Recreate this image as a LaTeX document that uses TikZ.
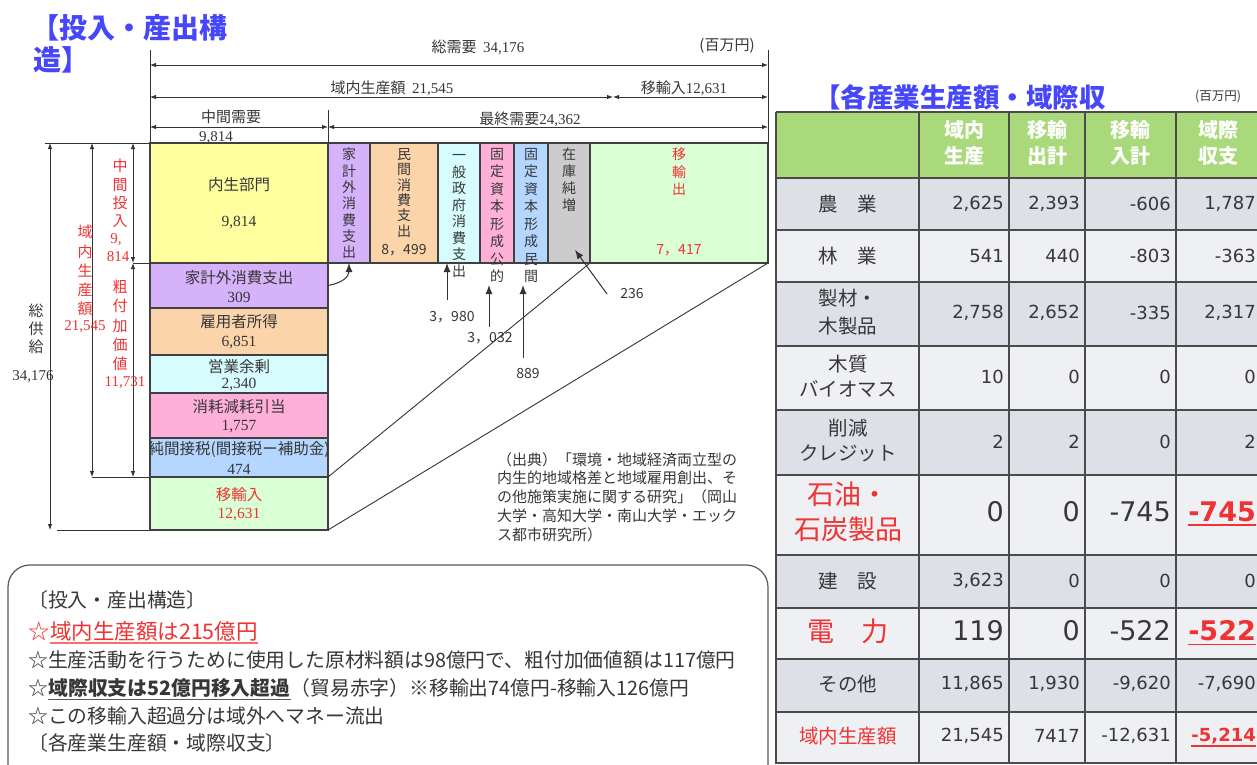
\documentclass[tikz,border=0pt]{standalone}
\usepackage{fontspec}
\setmainfont{Noto Sans CJK JP}
\newfontfamily\ser{Liberation Serif}
\newfontfamily\dv{DejaVu Sans}
\usetikzlibrary{arrows.meta}
\newcommand\fsz[2]{\fontsize{#1pt}{#2pt}\selectfont}
\definecolor{tblue}{RGB}{70,70,250}
\definecolor{tred}{RGB}{240,50,50}
\definecolor{tx}{RGB}{55,55,55}
\definecolor{cyel}{RGB}{255,255,160}
\definecolor{cpur}{RGB}{214,178,250}
\definecolor{cora}{RGB}{252,212,170}
\definecolor{ccya}{RGB}{214,252,255}
\definecolor{cpin}{RGB}{255,176,216}
\definecolor{cblu}{RGB}{180,214,255}
\definecolor{cgrn}{RGB}{218,255,212}
\definecolor{cgry}{RGB}{204,204,204}
\definecolor{hgrn}{RGB}{169,217,122}
\definecolor{rowa}{RGB}{222,224,232}
\definecolor{rowb}{RGB}{239,240,244}
\definecolor{gridc}{RGB}{75,75,75}
\newcommand\bx[6]{\node[box,fill=#2,minimum width={#5-#3},minimum height={#6-#4}] (#1) at (#3,#4) {};}
\newcommand\nrow[6]{%
 \node[num] (#1a) at (1004,#2) {#3};
 \node[num] (#1b) at (1080,#2) {#4};
 \node[num] (#1c) at (1171,#2) {#5};
 \node[num] (#1d) at (1256,#2) {#6};}
\begin{document}
\begin{tikzpicture}[x=1pt,y=-1pt,
 box/.style={draw=black!75,line width=1.1pt,anchor=north west,inner sep=0pt,outer sep=0pt},
 lab/.style={inner sep=0pt,text=tx,font=\fsz{15.5}{18}},
 vst/.style={inner sep=0pt,text=tx,align=center,anchor=north},
 dl/.style={inner sep=0pt,text=tx,font=\fsz{15}{18}},
 dim/.style={draw=black!80,line width=0.9pt,{Latex[length=6pt,width=4.5pt]}-{Latex[length=6pt,width=4.5pt]}},
 ext/.style={draw=black!80,line width=0.9pt},
 arr/.style={draw=black!80,line width=1pt,-{Latex[length=9pt,width=7pt]}},
 num/.style={inner sep=0pt,anchor=east,text=tx,font=\dv\fsz{18}{20}},
 rl/.style={inner sep=0pt,text=tx,align=center,font=\fsz{19.5}{25}},
 hd/.style={inner sep=0pt,text=white,align=center,font=\bfseries\fsz{20}{26}},
 bt/.style={inner sep=0pt,text=tx,font=\fsz{19.8}{24}}]
\useasboundingbox (0,0) rectangle (1257,764);
\clip (0,0) rectangle (1257,764);
\fill[white] (0,0) rectangle (1257,764);

% titles
\node[inner sep=0pt,anchor=west,text=tblue,font=\bfseries\fsz{28}{30}] (ttl1) at (31,28) {【投入・産出構};
\node[inner sep=0pt,anchor=west,text=tblue,font=\bfseries\fsz{28}{30}] (ttl2) at (33,60) {造】};
\node[inner sep=0pt,anchor=west,text=tblue,font=\bfseries\fsz{26.5}{30}] (ttl3) at (814,97) {【各産業生産額・域際収};
\node[inner sep=0pt,text=tx,font=\fsz{12.5}{14}] (unit2) at (1218,97) {(百万円)};

% left column boxes
\bx{yel}{cyel}{150}{143}{328}{263}
\bx{pur}{cpur}{150}{263}{328}{308}
\bx{ora}{cora}{150}{308}{328}{355}
\bx{cya}{ccya}{150}{355}{328}{393}
\bx{pin}{cpin}{150}{393}{328}{438}
\bx{blu}{cblu}{150}{438}{328}{477}
\bx{grn}{cgrn}{150}{477}{328}{530}
% top columns
\bx{k1}{cpur}{328}{143}{370}{263}
\bx{k2}{cora}{370}{143}{438}{263}
\bx{k3}{ccya}{438}{143}{480}{263}
\bx{k4}{cpin}{480}{143}{514}{263}
\bx{k5}{cblu}{514}{143}{548}{263}
\bx{k6}{cgry}{548}{143}{590}{263}
\bx{k7}{cgrn}{590}{143}{768}{263}

% left box texts
\node[lab] (y1) at (239,185) {内生部門};
\node[lab] (y2) at (239,223) {\ser 9,814};
\node[lab] (p1t) at (239,278) {家計外消費支出};
\node[lab] (p2t) at (239,297) {\ser 309};
\node[lab] (o1t) at (239,322) {雇用者所得};
\node[lab] (o2t) at (239,343) {\ser 6,851};
\node[lab] (c1t) at (239,367) {営業余剰};
\node[lab] (c2t) at (239,385) {\ser 2,340};
\node[lab] (m1t) at (239,407) {消耗減耗引当};
\node[lab] (m2t) at (239,427) {\ser 1,757};
\node[lab] (b1t) at (239,449) {純間接税(間接税ー補助金)};
\node[lab] (b2t) at (239,469) {\ser 474};
\node[lab,text=tred] (g1t) at (239,495) {移輸入};
\node[lab,text=tred] (g2t) at (239,515) {\ser 12,631};

% top column texts
\node[vst,font=\fsz{14}{16.3}] (kt1) at (349,148) {家\\計\\外\\消\\費\\支\\出};
\node[vst,font=\fsz{14}{15.4}] (kt2) at (404,148) {民\\間\\消\\費\\支\\出};
\node[inner sep=0pt,text=tx,font=\fsz{14}{16}] (kt2n) at (404,250) {8，499};
\node[vst,font=\fsz{14}{16.5}] (kt3) at (459,148) {\rule{0pt}{12.3pt}一\\般\\政\\府\\消\\費\\支\\出};
\node[vst,font=\fsz{14}{17.5}] (kt4) at (497,148) {固\\定\\資\\本\\形\\成\\公\\的};
\node[vst,font=\fsz{14}{17.5}] (kt5) at (531,148) {固\\定\\資\\本\\形\\成\\民\\間};
\node[vst,font=\fsz{14}{16.7}] (kt6) at (569,148) {在\\庫\\純\\増};
\node[vst,font=\fsz{14}{17.5},text=tred] (kt7) at (679,148) {移\\輸\\出};
\node[inner sep=0pt,text=tred,font=\fsz{14}{16}] (kt7n) at (679,250) {7，417};

% top dimension lines
\node[dl] (tot) at (478,47) {総需要\ \ {\ser 34,176}};
\node[dl] (unit1) at (727,46) {(百万円)};
\node[dl] (dom) at (392,88) {域内生産額\ \ {\ser 21,545}};
\node[dl] (imp) at (684,88) {移輸入{\ser 12,631}};
\node[dl] (mid) at (231,117) {中間需要};
\node[dl] (mid2) at (216,138) {\ser 9,814};
\node[dl] (fin) at (530,119) {最終需要{\ser 24,362}};
\coordinate (e1) at (150,50);
\coordinate (e2) at (768,50);
\coordinate (e3) at (328,110);
\draw[ext] (e1) -- (yel.north west);
\draw[ext] (e2) -- (k7.north east);
\draw[ext] (e3) -- (k1.north west);
\coordinate (pa) at (150,65); \coordinate (pb) at (768,65);
\coordinate (qa) at (150,97); \coordinate (qm) at (613,97); \coordinate (qb) at (768,97);
\coordinate (sa) at (150,127); \coordinate (sm) at (328,127); \coordinate (sb) at (768,127);
\draw[dim] (pa) -- (pb);
\draw[dim] (qa) -- (qm);
\draw[dim] (qm) -- (qb);
\draw[dim] (sa) -- (sm);
\draw[dim] (sm) -- (sb);

% left dimension lines
\coordinate (h1) at (45,143);
\coordinate (v1a) at (50,143); \coordinate (v1b) at (50,530);
\coordinate (v2a) at (92,143); \coordinate (v2b) at (92,477);
\coordinate (v3a) at (133,143); \coordinate (v3m) at (133,263); \coordinate (v3b) at (133,477);
\coordinate (h4) at (57,530);
\draw[ext] (h1) -- (yel.north west);
\draw[ext] (v3m) -- (yel.south west);
\draw[ext] (v2b) -- (blu.south west);
\draw[ext] (h4) -- (grn.south west);
\draw[dim] (v1a) -- (v1b);
\draw[dim] (v2a) -- (v2b);
\draw[dim] (v3a) -- (v3m);
\draw[dim] (v3m) -- (v3b);

\node[vst,font=\fsz{15}{18}] (sk1) at (36,304) {総\\供\\給};
\node[inner sep=0pt,text=tx,font=\ser\fsz{15}{18}] (sk2) at (33,377) {34,176};
\node[vst,text=tred,font=\fsz{15}{19.3}] (dn1) at (85,225) {域\\内\\生\\産\\額};
\node[inner sep=0pt,text=tred,font=\ser\fsz{15}{18}] (dn2) at (85,327) {21,545};
\node[vst,text=tred,font=\fsz{15}{18.3}] (ct1) at (120,159) {中\\間\\投\\入};
\node[inner sep=0pt,text=tred,font=\ser\fsz{15}{17}] (ct2) at (116,240) {9,};
\node[inner sep=0pt,text=tred,font=\ser\fsz{15}{17}] (ct3) at (118,257) {814};
\node[vst,text=tred,font=\fsz{15}{19.2}] (fv1) at (120,280) {粗\\付\\加\\価\\値};
\node[inner sep=0pt,text=tred,font=\ser\fsz{15}{18}] (fv2) at (125,383) {11,731};

% diagonals
\draw[ext] (blu.south east) -- (k7.south west);
\draw[ext] (grn.south east) -- (k7.south east);

% arrows
\draw[arr] (pur.east) .. controls (342,283) and (349,277) .. (k1.south);
\node[inner sep=0pt,text=tx,font=\fsz{14}{16}] (l3980) at (452,317) {3，980};
\node[inner sep=0pt,text=tx,font=\fsz{14}{16}] (l3032) at (490,338) {3，032};
\node[inner sep=0pt,text=tx,font=\fsz{14}{16}] (l889) at (528,373) {889};
\node[inner sep=0pt,text=tx,font=\fsz{14}{16}] (l236) at (632,293) {236};
\coordinate (t1) at (447,300);
\coordinate (t2) at (489,327); \coordinate (u2) at (489,285);
\coordinate (t3) at (523,358); \coordinate (u3) at (523,285);
\coordinate (t4) at (607,294); \coordinate (u4) at (575,250);
\draw[arr] (t1) -- (t1 |- k3.south);
\draw[arr] (t2) -- (u2);
\draw[arr] (t3) -- (u3);
\draw[arr] (t4) -- (u4);

% source
\node[inner sep=0pt,anchor=north west,align=left,text=tx,font=\fsz{15}{18.75}] (src) at (497,452)
 {（出典）「環境・地域経済両立型の\\内生的地域格差と地域雇用創出、そ\\の他施策実施に関する研究」（岡山\\大学・高知大学・南山大学・エック\\ス都市研究所）};

% bottom box
\coordinate (bb1) at (8,800); \coordinate (bb2) at (8,565); \coordinate (bb3) at (768,565); \coordinate (bb4) at (768,800);
\draw[rounded corners=22pt,line width=1.2pt,black!65] (bb1) -- (bb2) -- (bb3) -- (bb4);
\node[bt,anchor=west] (L1) at (28,600) {〔投入・産出構造〕};
\node[bt,anchor=west,text=tred,font=\fsz{21.5}{24}] (L2a) at (28,631) {☆};
\node[bt,anchor=base west,text=tred,font=\fsz{21.5}{24}] (L2b) at (L2a.base east) {域内生産額は215億円};
\draw[tred!70,line width=1.8pt] ([yshift=-4pt]L2b.base west) -- ([yshift=-4pt]L2b.base east);
\node[bt,anchor=west] (L3) at (28,660) {☆生産活動を行うために使用した原材料額は98億円で、粗付加価値額は117億円};
\node[bt,anchor=west] (L4a) at (28,688) {☆};
\node[bt,anchor=base west,font=\bfseries\fsz{19.8}{24}] (L4b) at (L4a.base east) {域際収支は52億円移入超過};
\node[bt,anchor=base west] (L4c) at (L4b.base east) {（貿易赤字）※移輸出74億円-移輸入126億円};
\draw[black!65,line width=1.6pt] ([yshift=-4pt]L4b.base west) -- ([yshift=-4pt]L4b.base east);
\node[bt,anchor=west] (L5) at (28,716) {☆この移輸入超過分は域外へマネー流出};
\node[bt,anchor=west] (L6) at (28,743) {〔各産業生産額・域際収支〕};

% table fills
\fill[hgrn] (776,112) rectangle (1266,178);
\foreach \ya/\yb/\c in {178/230/rowa,230/282/rowb,282/346/rowa,346/410/rowb,410/475/rowa,475/555/rowb,555/608/rowa,608/659/rowb,659/712/rowa,712/764/rowb}
  \fill[\c] (776,\ya) rectangle (1266,\yb);
\foreach \yy in {112,178,230,282,346,410,475,555,608,659,712,763}
  \draw[gridc,line width=1.5pt] (776,\yy) -- (1266,\yy);
\foreach \xx in {776,919,1009,1085,1176}
  \draw[gridc,line width=1.5pt] (\xx,112) -- (\xx,764);

% header
\node[hd] (hh1) at (964,143) {域内\\生産};
\node[hd] (hh2) at (1047,143) {移輸\\出計};
\node[hd] (hh3) at (1130,143) {移輸\\入計};
\node[hd] (hh4) at (1218,143) {域際\\収支};

% row labels
\node[rl] (r1) at (848,204) {農\quad 業};
\node[rl] (r2) at (848,256) {林\quad 業};
\node[rl,align=left,font=\fsz{19.5}{28}] (r3) at (848,312) {製材・\\木製品};
\node[rl] (r4) at (848,376) {木質\\バイオマス};
\node[rl] (r5) at (848,441) {削減\\クレジット};
\node[rl,text=tred,font=\fsz{27}{35}] (r6) at (848,512) {石油・\\石炭製品};
\node[rl] (r7) at (848,581) {建\quad 設};
\node[rl,text=tred,font=\fsz{27}{30}] (r8) at (848,631) {電\quad 力};
\node[rl] (r9) at (848,684) {その他};
\node[rl,text=tred] (r10) at (848,736) {域内生産額};

% numbers
\nrow{n1}{204}{2,625}{2,393}{-606}{1,787}
\nrow{n2}{256}{541}{440}{-803}{-363}
\nrow{n3}{313}{2,758}{2,652}{-335}{2,317}
\nrow{n4}{377}{10}{0}{0}{0}
\nrow{n5}{442}{2}{2}{0}{2}
\begin{scope}[num/.append style={font=\dv\fsz{27}{30}}]
\nrow{n6}{512}{0}{0}{-745}{\bfseries\color{tred}-745}
\nrow{n8}{631}{119}{0}{-522}{\bfseries\color{tred}-522}
\end{scope}
\nrow{n7}{581}{3,623}{0}{0}{0}
\nrow{n9}{684}{11,865}{1,930}{-9,620}{-7,690}
\nrow{n10}{736}{21,545}{7417}{-12,631}{\bfseries\color{tred}-5,214}
\draw[tred,line width=1.6pt] ([yshift=-3pt]n6d.south west) -- ([yshift=-3pt]n6d.south east);
\draw[tred,line width=1.6pt] ([yshift=-3pt]n8d.south west) -- ([yshift=-3pt]n8d.south east);
\draw[tred,line width=1.4pt] ([yshift=-2pt]n10d.south west) -- ([yshift=-2pt]n10d.south east);
\end{tikzpicture}
\end{document}
